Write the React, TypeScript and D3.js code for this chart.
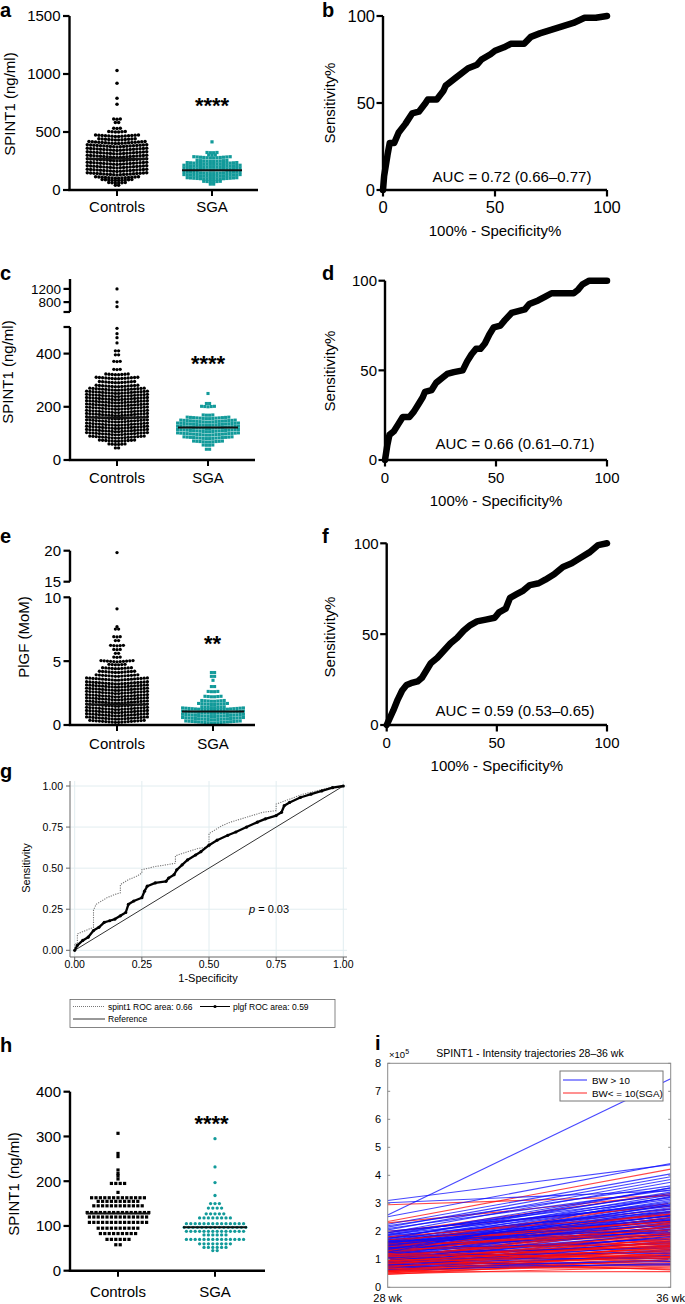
import React from 'react';
import * as d3 from 'd3';

const FONT = "'Liberation Sans', Arial, Helvetica, sans-serif";
const TEAL = '#129a9a';
const CATEGORIES = ['Controls', 'SGA'];

type Row = [number, number]; // [value, number of points at that level]
type Pt = [number, number];

// ---------- panel a ----------
const aTicks = [0, 500, 1000, 1500];
const aControls: Row[] = [[40,2],[60,6],[80,10],[100,14],[130,19],[160,19],[190,19],[220,19],[250,19],[280,19],[310,19],[340,19],[370,19],[400,18],[430,12],[460,14],[500,6],[530,3],[580,2],[610,3],[740,1],[790,1],[920,1],[1030,1]];
const aSGA: Row[] = [[50,2],[70,6],[90,16],[115,18],[140,18],[170,18],[195,18],[220,16],[245,10],[275,12],[300,3],[320,4],[415,1]];
const aMedians = [270, 170];

// ---------- panel c ----------
const cTicksLow = [0, 200, 400];
const cTicksHigh = [800, 1200];
const cControls: Row[] = [[45,2],[58,6],[70,12],[82,18],[94,20],[106,20],[118,20],[130,20],[142,20],[154,20],[166,20],[178,20],[190,20],[202,20],[214,20],[226,20],[238,20],[250,20],[262,18],[275,14],[290,12],[305,14],[320,8],[340,3],[370,3],[395,2],[410,2],[440,1],[460,1],[475,1],[495,1],[660,1],[800,1],[1200,1]];
const cSGA: Row[] = [[40,2],[55,4],[67,10],[80,16],[93,20],[106,20],[118,20],[130,20],[142,18],[155,14],[168,4],[200,5],[212,2],[250,1]];
const cMedians = [160, 122];

// ---------- panel e ----------
const eTicksLow = [0, 5, 10];
const eTicksHigh = [15, 20];
const eControls: Row[] = [[0.2,18],[0.45,20],[0.7,20],[0.95,20],[1.2,20],[1.45,20],[1.7,20],[1.95,20],[2.2,20],[2.45,20],[2.7,20],[2.95,20],[3.2,20],[3.5,20],[3.8,14],[4.1,12],[4.4,10],[4.7,6],[4.95,11],[5.3,3],[5.6,2],[5.9,3],[6.2,5],[6.6,2],[6.9,3],[7.5,2],[7.7,1],[9.1,1],[19.7,1]];
const eSGA: Row[] = [[0.15,18],[0.4,20],[0.65,20],[0.9,20],[1.15,20],[1.35,8],[1.6,10],[1.85,8],[2.2,6],[2.6,4],[3.0,2],[3.5,1],[3.8,2],[4.1,2]];
const eMedians = [1.6, 1.05];

// ---------- panel h ----------
const hTicks = [0, 100, 200, 300, 400];
const hControls: Row[] = [[58,2],[70,6],[83,9],[95,10],[108,14],[120,14],[130,15],[145,12],[155,10],[163,13],[175,1],[195,4],[205,1],[212,1],[217,1],[225,1],[255,1],[262,1],[307,1]];
const hSGA: Row[] = [[45,2],[52,6],[60,8],[70,14],[80,6],[88,14],[97,15],[105,14],[118,8],[127,5],[140,4],[150,3],[168,1],[197,1],[232,1],[295,1]];
const hMedians = [128, 97];

// ---------- ROC curves b, d, f ----------
const rocTicks = [0, 50, 100];
const rocB: Pt[] = [[0,0],[0.5,8],[2,20],[3,27],[5,27],[7,33],[10,38],[13,44],[16,45],[19,50],[20,52],[24,52],[27,57],[28,60],[33,65],[38,70],[42,72],[44,75],[48,78],[50,80],[54,82],[57,84],[63,84],[66,88],[70,90],[75,92],[80,94],[85,96],[90,99],[95,99],[100,100]];
const rocD: Pt[] = [[0,0],[1,8],[2,14],[4,16],[6,20],[8,24],[11,24],[13,27],[15,31],[17,35],[18,38],[21,39],[23,43],[26,46],[28,48],[31,49],[35,50],[37,55],[39,59],[41,62],[43,62],[45,65],[47,70],[49,74],[52,75],[54,78],[57,82],[60,83],[63,84],[65,87],[69,89],[72,91],[75,93],[80,93],[85,93],[87,95],[89,98],[92,100],[95,100],[100,100]];
const rocF: Pt[] = [[0,0],[3,8],[5,14],[7,19],[9,22],[11,23],[14,24],[16,26],[18,30],[20,34],[23,37],[26,41],[29,45],[32,48],[35,52],[38,55],[41,57],[45,58],[49,59],[51,62],[54,64],[56,70],[59,72],[62,74],[65,77],[69,78],[72,80],[76,83],[80,87],[84,89],[88,92],[92,95],[96,99],[100,100]];

// ---------- panel g ----------
const gTicks = [0, 0.25, 0.5, 0.75, 1];
const spint1Roc: Pt[] = [[0,0],[0,0.04],[0.01,0.04],[0.01,0.10],[0.04,0.12],[0.07,0.14],[0.07,0.245],[0.08,0.28],[0.1,0.30],[0.12,0.32],[0.15,0.34],[0.17,0.35],[0.17,0.40],[0.2,0.43],[0.23,0.45],[0.25,0.47],[0.25,0.49],[0.3,0.51],[0.34,0.52],[0.375,0.53],[0.375,0.575],[0.42,0.60],[0.46,0.62],[0.5,0.63],[0.5,0.71],[0.53,0.74],[0.55,0.76],[0.58,0.78],[0.62,0.80],[0.66,0.82],[0.7,0.84],[0.75,0.85],[0.75,0.89],[0.8,0.92],[0.85,0.95],[0.9,0.97],[0.95,0.99],[1,1]];
const plgfRoc: Pt[] = [[0,0],[0.01,0.03],[0.03,0.06],[0.05,0.08],[0.07,0.12],[0.09,0.14],[0.11,0.17],[0.13,0.18],[0.15,0.19],[0.17,0.21],[0.19,0.23],[0.2,0.28],[0.22,0.30],[0.25,0.32],[0.26,0.36],[0.27,0.39],[0.3,0.41],[0.34,0.42],[0.35,0.44],[0.37,0.46],[0.38,0.49],[0.4,0.52],[0.42,0.55],[0.45,0.58],[0.47,0.60],[0.5,0.64],[0.53,0.67],[0.57,0.70],[0.6,0.72],[0.64,0.75],[0.68,0.78],[0.71,0.80],[0.75,0.82],[0.77,0.84],[0.78,0.88],[0.8,0.90],[0.84,0.93],[0.88,0.95],[0.92,0.97],[0.96,0.99],[1,1]];
const referenceLine: Pt[] = [[0,0],[1,1]];

// ---------- panel i ----------
const iWeeks = ['28 wk', '36 wk'];
const iTicks = [0,1,2,3,4,5,6,7,8];
const blueTraj: Pt[] = [[2.58,7.45],[3.10,4.38],[3.02,3.45],[2.52,4.42],[2.25,4.05],[2.15,3.95],[2.05,3.85],[1.95,3.75],[2.20,3.62],[1.85,3.55],[2.10,3.48],[1.75,3.40],[1.90,3.35],[1.65,3.30],[1.60,3.22],[1.80,3.15],[1.55,3.10],[1.70,3.05],[1.50,3.00],[1.45,2.95],[1.62,2.90],[1.40,2.85],[1.75,2.80],[1.35,2.78],[1.58,2.72],[1.30,2.68],[1.52,2.65],[1.68,2.60],[1.25,2.58],[1.45,2.55],[1.20,2.50],[1.38,2.48],[1.60,2.45],[1.15,2.42],[1.32,2.38],[1.50,2.35],[1.10,2.32],[1.28,2.28],[1.42,2.25],[1.05,2.20],[1.22,2.15],[1.55,2.12],[1.00,2.08],[1.18,2.05],[1.36,2.00],[0.95,1.95],[1.12,1.90],[1.48,1.88],[0.90,1.82],[1.08,1.78],[1.30,1.72],[0.88,1.65],[1.02,1.60],[1.40,1.55],[0.82,1.50],[0.98,1.45],[1.25,1.40],[0.78,1.35],[0.92,1.30],[1.15,1.22],[0.72,1.15],[0.86,1.10],[1.05,1.02],[0.68,0.98],[0.80,0.92],[0.62,0.85],[0.75,0.80],[1.62,1.95],[1.70,2.40],[1.85,2.70],[1.95,3.20],[2.00,2.95],[1.78,2.20],[1.66,2.05],[1.88,3.00],[1.58,2.55],[1.48,2.70],[1.35,2.95],[1.72,3.55],[1.25,3.25]];
const redTraj: Pt[] = [[2.95,3.27],[2.35,4.22],[2.30,3.30],[2.00,2.90],[1.95,3.35],[1.62,2.80],[1.55,2.55],[1.48,2.45],[1.40,2.40],[1.32,2.32],[1.52,2.22],[1.22,2.18],[1.36,2.08],[1.12,2.02],[1.26,1.98],[1.02,1.92],[1.42,1.86],[0.96,1.82],[1.16,1.76],[0.92,1.72],[1.30,1.66],[0.86,1.62],[1.06,1.56],[0.82,1.52],[1.20,1.46],[0.76,1.42],[1.00,1.36],[0.72,1.32],[1.10,1.26],[0.66,1.22],[0.90,1.16],[0.62,1.12],[0.80,1.06],[1.28,1.02],[0.56,0.98],[0.70,0.92],[0.52,0.88],[0.90,0.82],[0.60,0.76],[0.48,0.72],[0.76,0.66],[0.55,0.56],[1.00,0.62],[1.20,0.92],[0.86,2.20],[0.66,1.90],[1.46,2.62],[1.56,2.36],[0.96,2.30],[1.60,3.00],[1.20,2.50],[0.76,1.76],[1.06,2.16],[0.50,1.26],[0.60,1.50],[0.80,1.96],[0.70,1.66],[1.10,1.46],[0.96,1.20],[1.26,2.26],[1.36,1.56],[0.86,1.30],[0.56,1.06],[0.66,0.80],[1.16,1.10],[0.90,1.60],[0.46,1.00],[1.00,1.70],[0.76,1.10],[1.30,2.70],[1.50,1.90],[0.60,1.36],[1.80,2.60],[1.70,2.35],[1.45,2.05],[0.72,1.45],[0.58,1.18],[0.84,1.40],[1.14,1.84],[0.94,1.52]];

type Seg = { domain: [number, number]; range: [number, number]; ticks: number[]; caps: number[]; font: number };

function Letter({ t, x, y }: { t: string; x: number; y: number }) {
  return <text x={x} y={y} fontSize={20} fontWeight="bold" fontFamily="Arial, 'Liberation Sans', sans-serif">{t}</text>;
}

function DotPanel(p: {
  segs: Seg[]; axisX: number; xEnd: number; catX: [number, number]; baseY: number; labelY: number;
  ctrl: Row[]; sga: Row[]; medians: number[]; medHalf: number;
  ctrlShape: 'circle' | 'square'; sgaShape: 'circle' | 'square';
  dotC: number; dotS: number; spacing: number; tilt: number;
  stars: string; starsX: number; starsY: number;
  ylabel: string; ylabelX: number; ylabelY: number;
}) {
  const scales = p.segs.map(s => d3.scaleLinear(s.domain, s.range));
  const y = (v: number) => {
    for (let i = 0; i < p.segs.length; i++) {
      const s = p.segs[i];
      if (v >= s.domain[0] && v <= s.domain[1]) return scales[i](v);
    }
    return scales[scales.length - 1](v);
  };
  const xs = d3.scalePoint<string>().domain(CATEGORIES).range(p.catX);
  const layout = (rows: Row[], cx: number) =>
    rows.flatMap(([v, n]) => d3.range(n).map(i => {
      const o = i - (n - 1) / 2;
      return [cx + o * p.spacing, y(v) - p.tilt * Math.abs(o)] as Pt;
    }));
  const groups = [
    { pts: layout(p.ctrl, xs('Controls')!), shape: p.ctrlShape, color: '#000', size: p.dotC },
    { pts: layout(p.sga, xs('SGA')!), shape: p.sgaShape, color: TEAL, size: p.dotS },
  ];
  return (
    <g fontFamily={FONT}>
      {groups.map((g, gi) => g.pts.map((pt, i) => g.shape === 'circle'
        ? <circle key={gi + '-' + i} cx={pt[0]} cy={pt[1]} r={g.size / 2} fill={g.color} />
        : <rect key={gi + '-' + i} x={pt[0] - g.size / 2} y={pt[1] - g.size / 2} width={g.size} height={g.size} fill={g.color} />))}
      {CATEGORIES.map((c, i) => (
        <line key={c} x1={xs(c)! - p.medHalf} x2={xs(c)! + p.medHalf} y1={y(p.medians[i])} y2={y(p.medians[i])} stroke="#111" strokeWidth={2} />
      ))}
      {p.segs.map((s, i) => (
        <g key={i}>
          <line x1={p.axisX} x2={p.axisX} y1={s.range[0] + (i === 0 ? 1 : 0)} y2={s.range[1]} stroke="#000" strokeWidth={2.4} />
          {[...s.ticks, ...s.caps].map(t => (
            <line key={'t' + t} x1={p.axisX - 6.5} x2={p.axisX} y1={scales[i](t)} y2={scales[i](t)} stroke="#000" strokeWidth={2.2} />
          ))}
          {s.ticks.map(t => (
            <text key={'l' + t} x={p.axisX - 9} y={scales[i](t)} dy="0.36em" textAnchor="end" fontSize={s.font}>{t}</text>
          ))}
        </g>
      ))}
      <line x1={p.axisX - 1.2} x2={p.xEnd} y1={p.baseY} y2={p.baseY} stroke="#000" strokeWidth={2.4} />
      {CATEGORIES.map(c => (
        <g key={c}>
          <line x1={xs(c)!} x2={xs(c)!} y1={p.baseY} y2={p.baseY + 6} stroke="#000" strokeWidth={2} />
          <text x={xs(c)!} y={p.labelY} textAnchor="middle" fontSize={15}>{c}</text>
        </g>
      ))}
      <text x={p.starsX} y={p.starsY} textAnchor="middle" fontSize={22} fontWeight="bold">{p.stars}</text>
      <text transform={`translate(${p.ylabelX},${p.ylabelY}) rotate(-90)`} textAnchor="middle" fontSize={15}>{p.ylabel}</text>
    </g>
  );
}

function RocPanel(p: {
  data: Pt[]; axisX: number; xEnd: number; yTop: number; y0: number; auc: string; aucX: number; aucY: number;
  tickFont: number; sensY: number;
}) {
  const x = d3.scaleLinear([0, 100], [p.axisX, p.xEnd]);
  const y = d3.scaleLinear([0, 100], [p.y0, p.yTop]);
  const line = d3.line<Pt>().x(d => x(d[0])).y(d => y(d[1]));
  return (
    <g fontFamily={FONT}>
      <line x1={p.axisX} x2={p.axisX} y1={p.y0 + 1} y2={p.yTop} stroke="#000" strokeWidth={2.4} />
      <line x1={p.axisX - 1.2} x2={p.xEnd} y1={p.y0} y2={p.y0} stroke="#000" strokeWidth={2.4} />
      {rocTicks.map(t => (
        <g key={t}>
          <line x1={p.axisX - 6.5} x2={p.axisX} y1={y(t)} y2={y(t)} stroke="#000" strokeWidth={2.2} />
          <text x={p.axisX - 8} y={y(t)} dy="0.36em" textAnchor="end" fontSize={p.tickFont}>{t}</text>
          <line x1={x(t)} x2={x(t)} y1={p.y0} y2={p.y0 + 6.5} stroke="#000" strokeWidth={2.2} />
          <text x={x(t)} y={p.y0 + 23} textAnchor="middle" fontSize={p.tickFont}>{t}</text>
        </g>
      ))}
      <path d={line(p.data)!} fill="none" stroke="#000" strokeWidth={6.5} strokeLinejoin="round" strokeLinecap="round" />
      <text x={p.aucX} y={p.aucY} textAnchor="middle" fontSize={15}>{p.auc}</text>
      <text x={(p.axisX + p.xEnd) / 2} y={p.y0 + 46} textAnchor="middle" fontSize={15}>100% - Specificity%</text>
      <text transform={`translate(335,${p.sensY}) rotate(-90)`} textAnchor="middle" fontSize={15}>Sensitivity%</text>
    </g>
  );
}

function PanelG() {
  const x = d3.scaleLinear([0, 1], [74.7, 343.3]);
  const y = d3.scaleLinear([0, 1], [950.3, 786]);
  const line = d3.line<Pt>().x(d => x(d[0])).y(d => y(d[1]));
  const fmt = d3.format('.2f');
  const axisX = 70, axisY = 957, right = 347, top = 781;
  return (
    <g fontFamily={FONT}>
      {gTicks.map(t => (
        <g key={t}>
          <line x1={axisX} x2={right} y1={y(t)} y2={y(t)} stroke="#e2edf0" strokeWidth={1} />
          <line x1={x(t)} x2={x(t)} y1={top} y2={axisY} stroke="#e2edf0" strokeWidth={1} />
        </g>
      ))}
      <line x1={axisX} x2={axisX} y1={top} y2={axisY} stroke="#666" strokeWidth={1} />
      <line x1={axisX} x2={right} y1={axisY} y2={axisY} stroke="#666" strokeWidth={1} />
      {gTicks.map(t => (
        <g key={'k' + t}>
          <line x1={axisX - 4} x2={axisX} y1={y(t)} y2={y(t)} stroke="#666" />
          <text x={axisX - 7} y={y(t)} dy="0.35em" textAnchor="end" fontSize={10.5}>{fmt(t)}</text>
          <line x1={x(t)} x2={x(t)} y1={axisY} y2={axisY + 4} stroke="#666" />
          <text x={x(t)} y={axisY + 11} textAnchor="middle" fontSize={10.5}>{fmt(t)}</text>
        </g>
      ))}
      <path d={line(referenceLine)!} fill="none" stroke="#333" strokeWidth={1} />
      <path d={line(spint1Roc)!} fill="none" stroke="#777" strokeWidth={1.1} strokeDasharray="1.2,1.2" />
      <path d={line(plgfRoc)!} fill="none" stroke="#000" strokeWidth={2.3} strokeLinejoin="round" />
      {plgfRoc.map((d, i) => <circle key={i} cx={x(d[0])} cy={y(d[1])} r={1.6} fill="#000" />)}
      <text x={249} y={913} fontSize={11}><tspan fontStyle="italic">p</tspan> = 0.03</text>
      <text x={208} y={982} textAnchor="middle" fontSize={11}>1-Specificity</text>
      <text transform="translate(30,868) rotate(-90)" textAnchor="middle" fontSize={11}>Sensitivity</text>
      <rect x={70} y={999.5} width={265} height={28} fill="#fff" stroke="#666" strokeWidth={0.8} />
      <line x1={73} x2={105} y1={1006.5} y2={1006.5} stroke="#777" strokeDasharray="1,1" />
      <text x={108} y={1009.5} fontSize={8.5}>spint1 ROC area: 0.66</text>
      <line x1={200} x2={230} y1={1006.5} y2={1006.5} stroke="#000" strokeWidth={1} />
      <circle cx={215} cy={1006.5} r={1.6} fill="#000" />
      <text x={233} y={1009.5} fontSize={8.5}>plgf ROC area: 0.59</text>
      <line x1={73} x2={105} y1={1019} y2={1019} stroke="#333" strokeWidth={1} />
      <text x={108} y={1022} fontSize={8.5}>Reference</text>
    </g>
  );
}

function PanelI() {
  const x = d3.scalePoint<string>().domain(iWeeks).range([387.7, 670.7]);
  const y = d3.scaleLinear([0, 8], [1287.3, 1063.3]);
  const n = Math.max(blueTraj.length, redTraj.length);
  const order: { d: Pt; c: string }[] = [];
  for (let i = 0; i < n; i++) {
    if (blueTraj[i]) order.push({ d: blueTraj[i], c: '#0a0aff' });
    if (redTraj[i]) order.push({ d: redTraj[i], c: '#ff0a0a' });
  }
  const x0 = x(iWeeks[0])!, x1 = x(iWeeks[1])!;
  return (
    <g fontFamily={FONT}>
      <defs>
        <clipPath id="iclip"><rect x={x0} y={y(8)} width={x1 - x0} height={y(0) - y(8)} /></clipPath>
      </defs>
      <g clipPath="url(#iclip)">
        {order.map((o, i) => (
          <line key={i} x1={x0} x2={x1} y1={y(o.d[0])} y2={y(o.d[1])} stroke={o.c} strokeOpacity={0.75} strokeWidth={1.15} />
        ))}
      </g>
      <rect x={x0} y={y(8)} width={x1 - x0} height={y(0) - y(8)} fill="none" stroke="#8a8a8a" strokeWidth={1} />
      {iTicks.map(t => (
        <g key={t}>
          <line x1={x0} x2={x0 + 2.5} y1={y(t)} y2={y(t)} stroke="#8a8a8a" />
          <line x1={x1 - 2.5} x2={x1} y1={y(t)} y2={y(t)} stroke="#8a8a8a" />
          <text x={381} y={y(t)} dy="0.35em" textAnchor="end" fontSize={11}>{t}</text>
        </g>
      ))}
      {iWeeks.map(w => <text key={w} x={x(w)!} y={1302} textAnchor="middle" fontSize={11}>{w}</text>)}
      <text x={389} y={1058} fontSize={9.5}>×10<tspan dy={-4} fontSize={7}>5</tspan></text>
      <text x={530} y={1057} textAnchor="middle" fontSize={10.5}>SPINT1 - Intensity trajectories 28–36 wk</text>
      <rect x={560} y={1071} width={103} height={30} fill="#fff" stroke="#777" strokeWidth={1} />
      <line x1={563} x2={587} y1={1080} y2={1080} stroke="#0a0aff" strokeOpacity={0.75} strokeWidth={1.2} />
      <text x={592} y={1083.5} fontSize={9.8}>BW &gt; 10</text>
      <line x1={563} x2={587} y1={1093} y2={1093} stroke="#ff0a0a" strokeOpacity={0.75} strokeWidth={1.2} />
      <text x={592} y={1096.5} fontSize={9.8}>BW&lt; = 10(SGA)</text>
    </g>
  );
}

export default function App() {
  return (
    <svg width={685} height={1304} style={{ position: 'absolute', left: 0, top: 0, display: 'block', background: '#fff' }}>
      <rect width={685} height={1304} fill="#fff" />
      {/* a */}
      <DotPanel
        segs={[{ domain: [0, 1500], range: [190, 16], ticks: aTicks, caps: [], font: 15 }]}
        axisX={69.5} xEnd={258} catX={[117, 212]} baseY={190} labelY={212}
        ctrl={aControls} sga={aSGA} medians={aMedians} medHalf={30}
        ctrlShape="circle" sgaShape="square" dotC={3.5} dotS={3.2} spacing={3.3} tilt={0.25}
        stars="****" starsX={212} starsY={113}
        ylabel="SPINT1 (ng/ml)" ylabelX={15} ylabelY={104} />
      <RocPanel data={rocB} axisX={383} xEnd={607} yTop={16} y0={190} auc="AUC = 0.72 (0.66–0.77)" aucX={512} aucY={182} tickFont={16.5} sensY={103} />
      {/* c */}
      <DotPanel
        segs={[
          { domain: [0, 500], range: [460, 327], ticks: cTicksLow, caps: [500], font: 15 },
          { domain: [500, 1500], range: [312, 279], ticks: cTicksHigh, caps: [500], font: 13.5 },
        ]}
        axisX={70} xEnd={255} catX={[117, 208]} baseY={460} labelY={483}
        ctrl={cControls} sga={cSGA} medians={cMedians} medHalf={30}
        ctrlShape="circle" sgaShape="square" dotC={3.3} dotS={3.1} spacing={3.2} tilt={0.25}
        stars="****" starsX={208} starsY={371}
        ylabel="SPINT1 (ng/ml)" ylabelX={13} ylabelY={372} />
      <RocPanel data={rocD} axisX={385} xEnd={607} yTop={280.7} y0={460} auc="AUC = 0.66 (0.61–0.71)" aucX={515} aucY={449} tickFont={15} sensY={371} />
      {/* e */}
      <DotPanel
        segs={[
          { domain: [0, 10], range: [725, 597.3], ticks: eTicksLow, caps: [], font: 15 },
          { domain: [15, 20], range: [581.7, 550.7], ticks: eTicksHigh, caps: [], font: 15 },
        ]}
        axisX={70} xEnd={255} catX={[117, 213]} baseY={725} labelY={749}
        ctrl={eControls} sga={eSGA} medians={eMedians} medHalf={31}
        ctrlShape="circle" sgaShape="square" dotC={3.3} dotS={3.1} spacing={3.2} tilt={0.25}
        stars="**" starsX={212.5} starsY={651}
        ylabel="PlGF (MoM)" ylabelX={29} ylabelY={637} />
      <RocPanel data={rocF} axisX={386.7} xEnd={607} yTop={543.3} y0={725} auc="AUC = 0.59 (0.53–0.65)" aucX={515} aucY={716} tickFont={15} sensY={637} />
      {/* g */}
      <PanelG />
      {/* h */}
      <DotPanel
        segs={[{ domain: [0, 400], range: [1270.7, 1091.7], ticks: hTicks, caps: [], font: 15 }]}
        axisX={70} xEnd={265} catX={[118, 215]} baseY={1270.7} labelY={1297}
        ctrl={hControls} sga={hSGA} medians={hMedians} medHalf={32}
        ctrlShape="square" sgaShape="circle" dotC={3.2} dotS={3.3} spacing={4.4} tilt={0}
        stars="****" starsX={211.5} starsY={1131}
        ylabel="SPINT1 (ng/ml)" ylabelX={19} ylabelY={1184} />
      <PanelI />
      <Letter t="a" x={0} y={17} />
      <Letter t="b" x={322} y={17} />
      <Letter t="c" x={0} y={280} />
      <Letter t="d" x={322} y={280} />
      <Letter t="e" x={0} y={543} />
      <Letter t="f" x={322} y={543} />
      <Letter t="g" x={0} y={778} />
      <Letter t="h" x={0} y={1052} />
      <Letter t="i" x={375} y={1050} />
    </svg>
  );
}
